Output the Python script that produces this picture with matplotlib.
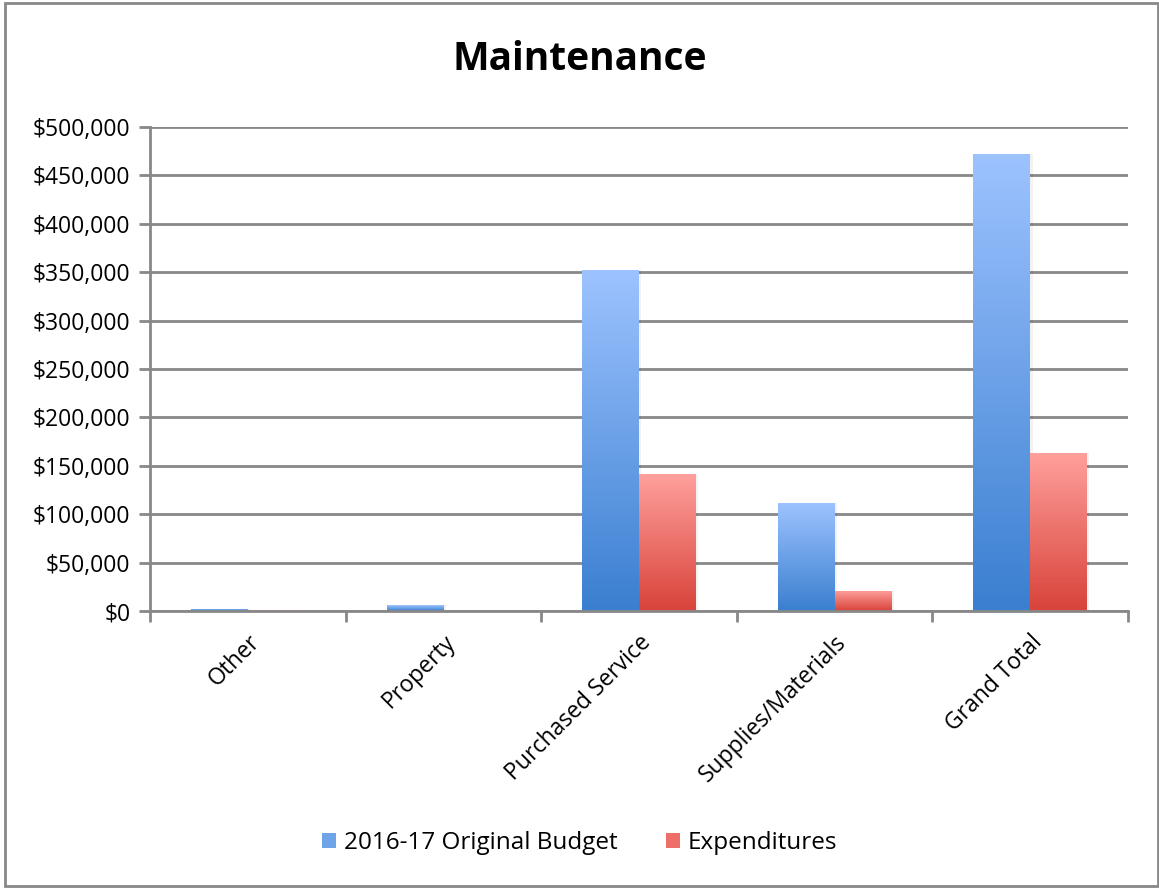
import matplotlib.pyplot as plt
import numpy as np
from matplotlib.colors import LinearSegmentedColormap
from matplotlib.patches import Rectangle, Patch
from matplotlib.ticker import FuncFormatter

categories = ["Other", "Property", "Purchased Service", "Supplies/Materials", "Grand Total"]
budget = [2500, 6000, 352000, 112000, 472500]
expenditures = [1000, 300, 141500, 20700, 163500]
series_names = ["2016-17 Original Budget", "Expenditures"]

plt.rcParams['font.family'] = ['Open Sans', 'DejaVu Sans']

fig = plt.figure(figsize=(11.59, 8.88), dpi=100)
ax = fig.add_axes([150 / 1159, 1 - 611 / 888, 978 / 1159, 484 / 888])

blue_cm = LinearSegmentedColormap.from_list("b", ["#3A7FD0", "#9DC3FF"])
red_cm = LinearSegmentedColormap.from_list("r", ["#D8433A", "#FFA09C"])

x = np.arange(len(categories))
w = 0.29
grad = np.linspace(0, 1, 256).reshape(-1, 1)

def gradient_bars(xs, vals, cmap, color):
    bars = ax.bar(xs, vals, w, color=color, zorder=3)
    for b in bars:
        bx, by = b.get_x(), b.get_y()
        bw, bh = b.get_width(), b.get_height()
        if bh <= 0:
            continue
        # soft shadow
        ax.add_patch(Rectangle((bx + 0.012, by), bw, bh, color="#000000",
                               alpha=0.05, zorder=2.5, lw=0))
        im = ax.imshow(grad, cmap=cmap, aspect="auto", origin="lower",
                       extent=[bx, bx + bw, by, by + bh], zorder=3.5)
        im.set_clip_path(b)
    return bars

gradient_bars(x - w / 2, budget, blue_cm, "#6FA4E8")
gradient_bars(x + w / 2, expenditures, red_cm, "#EE6E68")

ax.set_xlim(-0.5, len(categories) - 0.5)
ax.set_ylim(0, 500000)
ax.set_yticks(np.arange(0, 500001, 50000))
ax.yaxis.set_major_formatter(FuncFormatter(lambda v, p: "${:,.0f}".format(v)))
ax.grid(axis="y", color="#888888", lw=2, zorder=1)
ax.set_axisbelow(True)

for s in ["top", "right"]:
    ax.spines[s].set_visible(False)
for s in ["left", "bottom"]:
    ax.spines[s].set_color("#888888")
    ax.spines[s].set_linewidth(2)
    ax.spines[s].set_zorder(4)

ax.set_xticks(x)
ax.set_xticklabels(categories, rotation=45, ha="right", rotation_mode="anchor", fontsize=16.5)
ax.set_xticks(np.arange(-0.5, len(categories)), minor=True)
ax.tick_params(axis="x", which="major", length=0, pad=14)
ax.tick_params(axis="x", which="minor", length=8, width=2, color="#888888")
ax.tick_params(axis="y", length=8, width=2, color="#888888", labelsize=16.5, pad=6)

fig.text(0.5, 1 - 60 / 888, "Maintenance", ha="center", va="center",
         fontsize=28, fontweight="bold")

handles = [Patch(facecolor="#6FA4E8"), Patch(facecolor="#EE6E68")]
fig.legend(handles, series_names, loc="center", bbox_to_anchor=(0.5, 1 - 843 / 888),
           ncol=2, frameon=False, fontsize=17.5, handlelength=0.6, handleheight=0.6,
           columnspacing=2.0, handletextpad=0.3)

fig.add_artist(Rectangle((5 / 1159, 2 / 888), 1 - 6 / 1159, 1 - 5 / 888,
                         transform=fig.transFigure, fill=False,
                         edgecolor="#888888", lw=2))

plt.savefig("out.png", dpi=100)
